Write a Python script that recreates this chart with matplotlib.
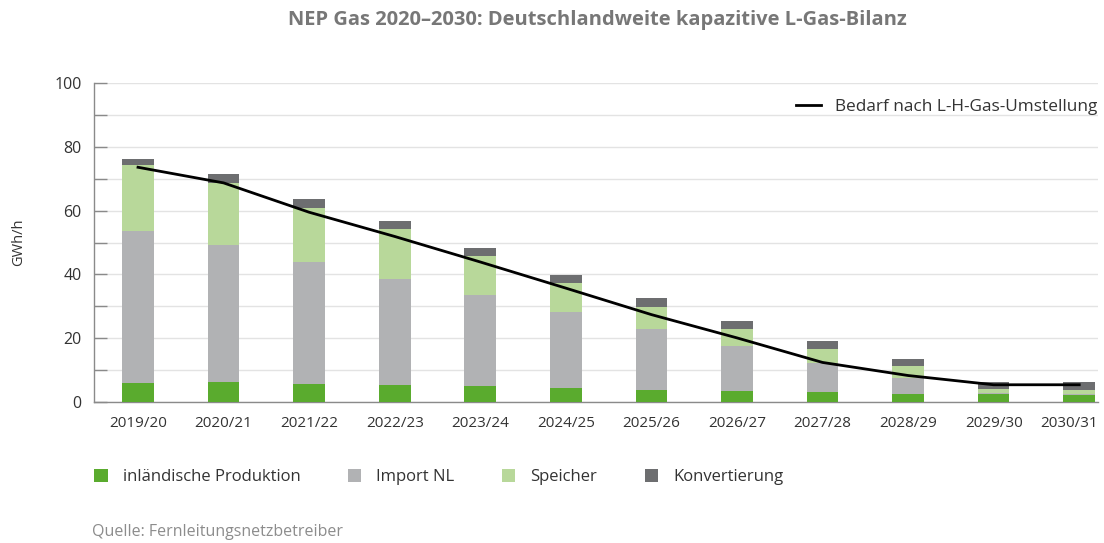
import matplotlib
matplotlib.use("Agg")
import matplotlib.pyplot as plt
import matplotlib.ticker as ticker
import matplotlib.transforms as mtransforms
from matplotlib.patches import Patch
from matplotlib.lines import Line2D
import numpy as np

plt.rcParams["font.family"] = ["Open Sans", "DejaVu Sans"]

# -- Data (GWh/h) -------------------------------------------------------------

years = ["2019/20", "2020/21", "2021/22", "2022/23", "2023/24", "2024/25",
         "2025/26", "2026/27", "2027/28", "2028/29", "2029/30", "2030/31"]

produktion = [6.0, 6.3, 5.6, 5.2, 4.9, 4.4, 3.9, 3.4, 3.0, 2.6, 2.5, 2.1]
import_nl = [47.7, 42.8, 38.3, 33.5, 28.5, 23.8, 19.0, 14.3, 9.2, 4.9, 0.4, 0.5]
speicher = [20.7, 19.6, 17.0, 15.5, 12.4, 9.1, 6.9, 5.1, 4.4, 3.7, 1.3, 1.2]
konvertierung = [1.7, 2.7, 2.6, 2.7, 2.6, 2.6, 2.7, 2.7, 2.5, 2.3, 2.1, 2.4]

bedarf = [73.6, 68.7, 59.5, 51.9, 43.9, 35.7, 27.4, 20.1, 12.4, 8.3, 5.4, 5.4]

SERIES = [
    ("inländische Produktion", produktion, "#5aab2e"),
    ("Import NL", import_nl, "#b1b2b4"),
    ("Speicher", speicher, "#b8d89a"),
    ("Konvertierung", konvertierung, "#6d6e70"),
]

TEXT = "#333333"

# -- Plot ---------------------------------------------------------------------

fig = plt.figure(figsize=(11.04, 5.43), dpi=100)
ax = fig.add_axes([0.0851, 0.2597, 0.9095, 0.5873])

x = np.arange(len(years))
bottom = np.zeros(len(years))
for name, vals, color in SERIES:
    ax.bar(x, vals, 0.37, bottom=bottom, color=color, label=name, zorder=3)
    bottom += np.array(vals)

ax.plot(x, bedarf, color="black", lw=2, zorder=4)

ax.set_xlim(-0.515, 11.22)
ax.set_ylim(0, 100)
ax.set_xticks(x)
ax.set_xticklabels(years)
ax.yaxis.set_major_locator(ticker.MultipleLocator(20))
ax.yaxis.set_minor_locator(ticker.MultipleLocator(10))
ax.tick_params(axis="x", length=0, pad=10, labelsize=11, labelcolor=TEXT)
ax.tick_params(axis="y", which="both", direction="in", length=9.5, width=1,
               color="#8a8a8a", pad=9, labelsize=11.5, labelcolor=TEXT)
ax.grid(axis="y", which="both", color="#e3e3e3", lw=1, zorder=0)

# last label sits a bit left of its bar so it stays inside the figure
last = ax.get_xticklabels()[-1]
last.set_transform(last.get_transform() +
                   mtransforms.ScaledTranslation(-10 / 100, 0, fig.dpi_scale_trans))

for side in ("top", "right"):
    ax.spines[side].set_visible(False)
for side in ("left", "bottom"):
    ax.spines[side].set_color("#8a8a8a")
    ax.spines[side].set_linewidth(1)

ax.set_ylabel("GWh/h", fontsize=10.5, color=TEXT, labelpad=20)

# line legend, top right inside the axes
ax.legend([Line2D([0], [0], color="black", lw=2)], ["Bedarf nach L-H-Gas-Umstellung"],
          loc="upper right", bbox_to_anchor=(1.015, 1.0), frameon=False,
          fontsize=12.4, handlelength=1.45, handletextpad=0.85, labelcolor=TEXT)

# bar legend below the chart
handles = [Patch(facecolor=c, edgecolor="none") for _, _, c in SERIES]
labels = [n for n, _, _ in SERIES]
fig.legend(handles, labels, loc="center left", bbox_to_anchor=(0.072, 0.121),
           ncol=4, frameon=False, fontsize=12, handlelength=0.8, handleheight=0.8,
           handletextpad=0.9, columnspacing=2.85, labelcolor=TEXT)

fig.text(0.5407, 0.963, "NEP Gas 2020–2030: Deutschlandweite kapazitive L-Gas-Bilanz",
         ha="center", va="center", fontsize=14.5, fontweight="bold", color="#777777")
fig.text(0.0833, 0.02, "Quelle: Fernleitungsnetzbetreiber", ha="left", va="center",
         fontsize=11.5, color="#8c8c8c")

fig.savefig("out.png", dpi=100)
plt.close()
